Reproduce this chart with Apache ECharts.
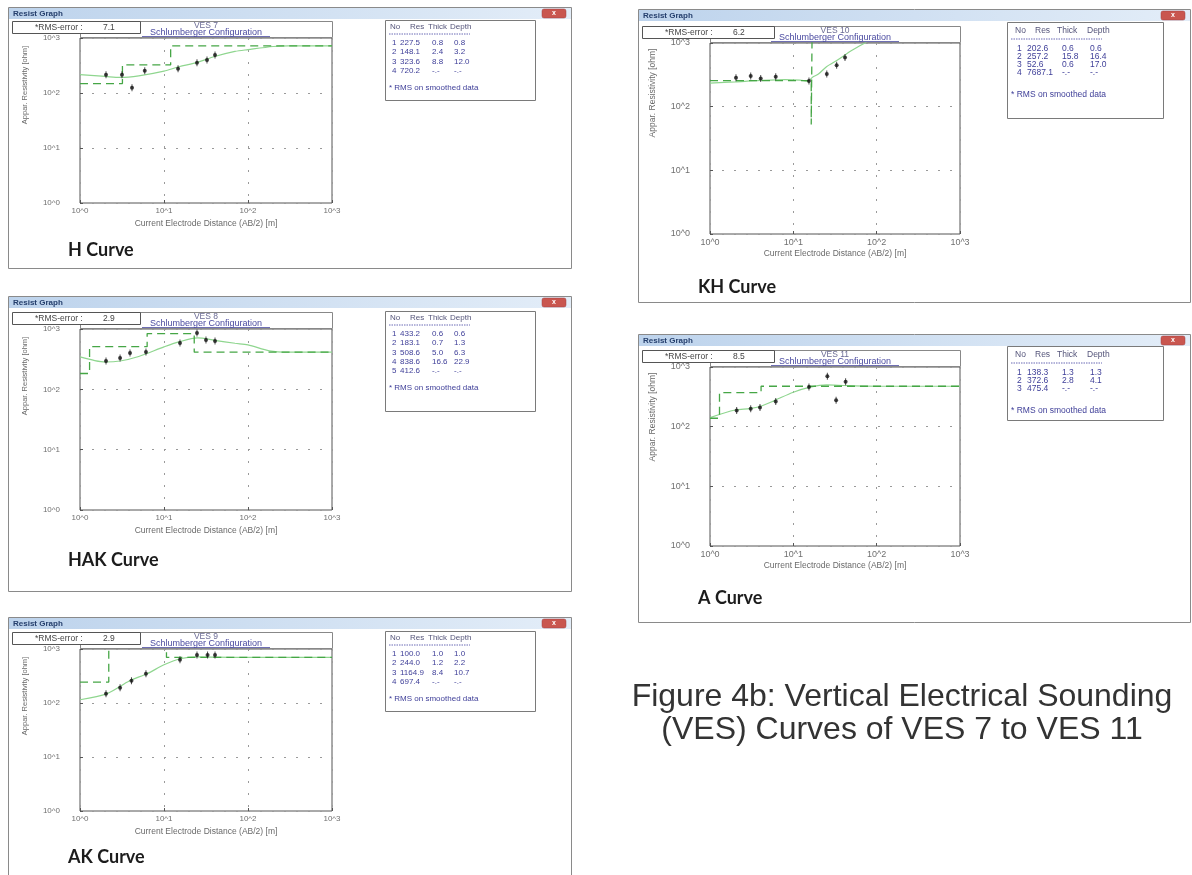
<!DOCTYPE html>
<html><head><meta charset="utf-8">
<script src="https://cdn.jsdelivr.net/npm/echarts@6/dist/echarts.min.js"></script>
<style>html,body{margin:0;padding:0;background:#fff}#c{width:1192px;height:875px}</style>
</head><body><div id="c"></div>
<script>
// ---------------- DATA ----------------
const vesNames = ['VES 7', 'VES 8', 'VES 9', 'VES 10', 'VES 11'];
const curveNames = ['H Curve', 'HAK Curve', 'AK Curve', 'KH Curve', 'A Curve'];
const rmsErrors = ['7.1', '2.9', '2.9', '6.2', '8.5'];
const tickLabels = ['10^0', '10^1', '10^2', '10^3'];
const xMin = 1, xMax = 1000, yMin = 1, yMax = 1000;

const ves7Res = [227.5, 148.1, 323.6, 720.2];
const ves7Thick = ['0.8', '2.4', '8.8'];
const ves7Depth = [0.8, 3.2, 12.0];
const ves7Smoothed = [[1,215],[2,200],[3,192],[5,205],[10,250],[15,300],[25,360],[40,460],[70,570],[100,615],[200,700],[300,720],[1000,720.2]];
const ves7Observed = [[2.04,215],[3.16,215],[4.16,125],[5.9,253],[14.7,276],[24.7,355],[32.5,400],[40.5,493]];

const ves8Res = [433.2, 183.1, 508.6, 838.6, 412.6];
const ves8Thick = ['0.6', '0.7', '5.0', '16.6'];
const ves8Depth = [0.6, 1.3, 6.3, 22.9];
const ves8Smoothed = [[1,345],[1.5,300],[2,284],[3,295],[5,350],[10,505],[15,610],[25,710],[40,650],[70,580],[100,545],[180,435],[300,413],[1000,412.6]];
const ves8Observed = [[2.04,296],[3.0,331],[3.94,400],[6.1,417],[15.5,588],[24.7,861],[31.6,660],[40.5,635]];

const ves9Res = [100.0, 244.0, 1164.9, 697.4];
const ves9Thick = ['1.0', '1.2', '8.4'];
const ves9Depth = [1.0, 2.2, 10.7];
const ves9Smoothed = [[1,115],[2.1,149],[3.9,258],[6.3,349],[10,510],[15.5,660],[24.7,716],[40,705],[100,698],[1000,697.4]];
const ves9Observed = [[2.04,149],[3.0,192],[4.1,258],[6.1,349],[15.5,630],[24.7,777],[33,777],[40.5,777]];

const ves10Res = [202.6, 257.2, 52.6, 7687.1];
const ves10Thick = ['0.6', '15.8', '0.6'];
const ves10Depth = [0.6, 16.4, 17.0];
const ves10Smoothed = [[1,234],[2,245],[4,258],[8,266],[12,262],[15,252],[17,290],[20,325],[25,425],[35,555],[50,760],[72,1000],[100,1300]];
const ves10Observed = [[2.05,284],[3.08,302],[4.06,277],[6.15,295],[15.4,252],[25.2,325],[33.1,447],[41.7,593]];

const ves11Res = [138.3, 372.6, 475.4];
const ves11Thick = ['1.3', '2.8'];
const ves11Depth = [1.3, 4.1];
const ves11Smoothed = [[1,142],[2,190],[3,201],[4,218],[6,276],[10,378],[16,459],[25,500],[40,490],[70,478],[150,475.4],[1000,475.4]];
const ves11Observed = [[2.09,186],[3.08,199],[3.98,209],[6.15,265],[15.4,464],[25.6,703],[32.6,276],[42.4,564]];

const xAxisName = 'Current Electrode Distance (AB/2) [m]';
const yAxisName = 'Appar. Resistivity [ohm]';
const configName = 'Schlumberger Configuration';
const tableHeader = ['No', 'Res', 'Thick', 'Depth'];
const tableNote = '* RMS on smoothed data';
const captionLines = ['Figure 4b: Vertical Electrical Sounding', '(VES) Curves of VES 7 to VES 11'];

const panels = [
  {res: ves7Res, thick: ves7Thick, depth: ves7Depth, smooth: ves7Smoothed, obs: ves7Observed},
  {res: ves8Res, thick: ves8Thick, depth: ves8Depth, smooth: ves8Smoothed, obs: ves8Observed},
  {res: ves9Res, thick: ves9Thick, depth: ves9Depth, smooth: ves9Smoothed, obs: ves9Observed},
  {res: ves10Res, thick: ves10Thick, depth: ves10Depth, smooth: ves10Smoothed, obs: ves10Observed},
  {res: ves11Res, thick: ves11Thick, depth: ves11Depth, smooth: ves11Smoothed, obs: ves11Observed}
];

// ---------------- LAYOUT ----------------
const layout = [
  {wx:8,   wy:7,   ww:564, wh:262, pl:80,  pw:252, pt:38,  pb:203, tx:377, tw:150, th:80,  labelY:250, big:false},
  {wx:8,   wy:296, ww:564, wh:296, pl:80,  pw:252, pt:329, pb:510, tx:377, tw:150, th:100, labelY:560, big:false},
  {wx:8,   wy:617, ww:564, wh:270, pl:80,  pw:252, pt:649, pb:811, tx:377, tw:150, th:80,  labelY:857, big:false},
  {wx:638, wy:9,   ww:553, wh:294, pl:710, pw:250, pt:43,  pb:234, tx:369, tw:156, th:96,  labelY:287, big:true},
  {wx:638, wy:334, ww:553, wh:289, pl:710, pw:250, pt:367, pb:546, tx:369, tw:156, th:74,  labelY:598, big:true}
];

const SANS = '"Liberation Sans", Arial, sans-serif';
const GREEN_DASH = '#46a646';
const GREEN_SOLID = '#8fd68f';

function modelSteps(res, depth) {
  const pts = [];
  for (let i = 0; i < res.length; i++) {
    const top = i === 0 ? 0 : depth[i - 1];
    const bottom = i < depth.length ? depth[i] : xMax;
    if (bottom <= xMin) continue;
    pts.push([Math.max(top, xMin), res[i]]);
    pts.push([bottom, res[i]]);
  }
  return pts;
}
const fmtTick = v => tickLabels[Math.round(Math.log10(v))] || '';

const grids = [], xAxes = [], yAxes = [], series = [], graphics = [];

panels.forEach((p, i) => {
  const L = layout[i];
  const sm = L.big ? 9 : 8;
  grids.push({left: L.pl, top: L.pt, width: L.pw, height: L.pb - L.pt, show: true,
    borderColor: '#555', borderWidth: 1, backgroundColor: 'rgba(0,0,0,0)', containLabel: false, outerBoundsMode: 'none'});
  xAxes.push({type: 'log', logBase: 10, gridIndex: i, min: xMin, max: xMax,
    name: xAxisName, nameLocation: 'middle', nameGap: L.big ? 15 : 16,
    nameTextStyle: {fontSize: 8.5, color: '#6a6a6a', fontFamily: SANS},
    axisLine: {show: false},
    axisTick: {show: true, inside: true, length: 3, lineStyle: {color: '#555'}},
    axisLabel: {fontSize: sm, color: '#707070', margin: 4, fontFamily: SANS, formatter: fmtTick},
    splitLine: {show: true, lineStyle: {type: [2, 10], color: '#9a9a9a', width: 1}}
  });
  yAxes.push({type: 'log', logBase: 10, gridIndex: i, min: yMin, max: yMax,
    axisLine: {show: false},
    axisTick: {show: true, inside: true, length: 3, lineStyle: {color: '#555'}},
    axisLabel: {fontSize: sm, color: '#707070', margin: 20, fontFamily: SANS, formatter: fmtTick},
    splitLine: {show: true, lineStyle: {type: [2, 10], color: '#9a9a9a', width: 1}}
  });
  series.push({type: 'line', xAxisIndex: i, yAxisIndex: i, data: modelSteps(p.res, p.depth),
    showSymbol: false, clip: true, lineStyle: {color: GREEN_DASH, width: 1.3, type: [8, 5]}, z: 3});
  series.push({type: 'line', xAxisIndex: i, yAxisIndex: i, data: p.smooth, smooth: 0.3,
    showSymbol: false, clip: true, lineStyle: {color: GREEN_SOLID, width: 1.2}, z: 2});
  series.push({type: 'scatter', xAxisIndex: i, yAxisIndex: i, data: p.obs, symbol: 'rect', symbolSize: [1, 7],
    itemStyle: {color: '#222'}, z: 4});
  series.push({type: 'scatter', xAxisIndex: i, yAxisIndex: i, data: p.obs, symbol: 'circle', symbolSize: 4,
    itemStyle: {color: '#111'}, z: 5});

  // ---- window chrome ----
  graphics.push({type: 'rect', silent: true, shape: {x: L.wx + 0.5, y: L.wy + 0.5, width: L.ww - 1, height: L.wh - 1},
    style: {fill: 'none', stroke: '#8a8a8a', lineWidth: 1}});
  graphics.push({type: 'rect', silent: true, shape: {x: L.wx + 1, y: L.wy + 1, width: L.ww - 2, height: 11},
    style: {fill: {type: 'linear', x: 0, y: 0, x2: 1, y2: 0, colorStops: [{offset: 0, color: '#bdd3ec'}, {offset: 1, color: '#e3edf8'}]}}});
  graphics.push({type: 'text', silent: true, x: L.wx + 5, y: L.wy + 7,
    style: {text: 'Resist Graph', fill: '#243e6c', font: 'bold 8px ' + SANS, textAlign: 'left', textVerticalAlign: 'middle'}});
  graphics.push({type: 'rect', silent: true, shape: {x: L.wx + L.ww - 30, y: L.wy + 2, width: 24, height: 9, r: 2},
    style: {fill: '#c9564f', stroke: '#a04040', lineWidth: 0.5}});
  graphics.push({type: 'text', silent: true, x: L.wx + L.ww - 18, y: L.wy + 6.5,
    style: {text: 'x', fill: '#fff', font: 'bold 7px ' + SANS, textAlign: 'center', textVerticalAlign: 'middle'}});

  // title box above plot (drawn first so the RMS box covers it)
  graphics.push({type: 'rect', silent: true, shape: {x: L.pl + 0.5, y: L.pt - 16.5, width: L.pw, height: 16},
    style: {fill: 'none', stroke: '#888', lineWidth: 1}});
  graphics.push({type: 'text', silent: true, x: L.pl + L.pw / 2, y: L.pt - 12.5,
    style: {text: vesNames[i], fill: '#6b6b95', font: '8.5px ' + SANS, textAlign: 'center', textVerticalAlign: 'middle'}});
  graphics.push({type: 'text', silent: true, x: L.pl + L.pw / 2, y: L.pt - 5,
    style: {text: configName, fill: '#4a4aa0', font: '9px ' + SANS, textAlign: 'center', textVerticalAlign: 'middle'}});
  graphics.push({type: 'line', silent: true, shape: {x1: L.pl + L.pw / 2 - 64, y1: L.pt - 1.5, x2: L.pl + L.pw / 2 + 64, y2: L.pt - 1.5},
    style: {stroke: '#4a4aa0', lineWidth: 0.8}});

  // RMS box
  const rmsW = L.big ? 132 : 128;
  graphics.push({type: 'rect', silent: true, shape: {x: L.wx + 4.5, y: L.pt - 16.5, width: rmsW, height: 12},
    style: {fill: '#fff', stroke: '#555', lineWidth: 1}});
  graphics.push({type: 'text', silent: true, x: L.wx + 27, y: L.pt - 10.5,
    style: {text: '*RMS-error :', fill: '#444', font: '8.5px ' + SANS, textAlign: 'left', textVerticalAlign: 'middle'}});
  graphics.push({type: 'text', silent: true, x: L.wx + 95, y: L.pt - 10.5,
    style: {text: rmsErrors[i], fill: '#444', font: '8.5px ' + SANS, textAlign: 'left', textVerticalAlign: 'middle'}});

  // y axis name (rotated)
  graphics.push({type: 'text', silent: true, x: L.pl - (L.big ? 57 : 55), y: L.pt + (L.big ? 50 : 47), rotation: Math.PI / 2,
    style: {text: yAxisName, fill: '#6a6a6a', font: (L.big ? '8.5px ' : '7.5px ') + SANS, textAlign: 'center', textVerticalAlign: 'middle'}});

  // curve label
  graphics.push({type: 'text', silent: true, x: L.wx + 60, y: L.labelY,
    style: {text: curveNames[i], fill: '#1c1c1c', font: 'bold 18px Lato, "Open Sans", sans-serif', textAlign: 'left', textVerticalAlign: 'middle'}});

  // ---- layer table ----
  const tbx = L.wx + L.tx, tby = L.pt - (L.big ? 21 : 18);
  const tfs = L.big ? 8.5 : 8;
  const hdrY = L.big ? 9 : 7, dashY = L.big ? 17 : 14, row0 = L.big ? 27 : 23, step = L.big ? 8 : 9.2;
  const hx = L.big ? [8, 28, 50, 80] : [5, 25, 43, 65];
  const rx = L.big ? [10, 20, 55, 83] : [7, 15, 47, 69];
  graphics.push({type: 'rect', silent: true, shape: {x: tbx + 0.5, y: tby + 0.5, width: L.tw, height: L.th},
    style: {fill: '#fff', stroke: '#7a7a7a', lineWidth: 1}});
  tableHeader.forEach((h, k) => graphics.push({type: 'text', silent: true, x: tbx + hx[k], y: tby + hdrY,
    style: {text: h, fill: '#55557a', font: tfs + 'px ' + SANS, textAlign: 'left', textVerticalAlign: 'middle'}}));
  graphics.push({type: 'line', silent: true, shape: {x1: tbx + 4, y1: tby + dashY, x2: tbx + (L.big ? 95 : 85), y2: tby + dashY},
    style: {stroke: '#6a6ab5', lineWidth: 1, lineDash: [1.5, 1]}});
  p.res.forEach((r, k) => {
    const yy = tby + row0 + k * step;
    const cells = [String(k + 1), r.toFixed(1),
      k < p.thick.length ? p.thick[k] : '-.-',
      k < p.depth.length ? p.depth[k].toFixed(1) : '-.-'];
    cells.forEach((c, m) => graphics.push({type: 'text', silent: true, x: tbx + rx[m], y: yy,
      style: {text: c, fill: '#3e3e98', font: tfs + 'px ' + SANS, textAlign: 'left', textVerticalAlign: 'middle'}}));
  });
  const noteY = tby + row0 + (p.res.length - 1) * step + (L.big ? 22 : 17);
  graphics.push({type: 'text', silent: true, x: tbx + 4, y: noteY,
    style: {text: tableNote, fill: '#3e3e98', font: tfs + 'px ' + SANS, textAlign: 'left', textVerticalAlign: 'middle'}});
});

// caption
captionLines.forEach((t, k) => graphics.push({type: 'text', silent: true, x: 902, y: 697 + k * 33,
  style: {text: t, fill: '#333', font: '32px ' + SANS, textAlign: 'center', textVerticalAlign: 'middle'}}));

const chart = echarts.init(document.getElementById('c'), null, {renderer: 'canvas', width: 1192, height: 875});
chart.setOption({
  animation: false,
  backgroundColor: '#fff',
  grid: grids, xAxis: xAxes, yAxis: yAxes, series: series,
  graphic: {elements: graphics}
});
</script>
</body></html>
